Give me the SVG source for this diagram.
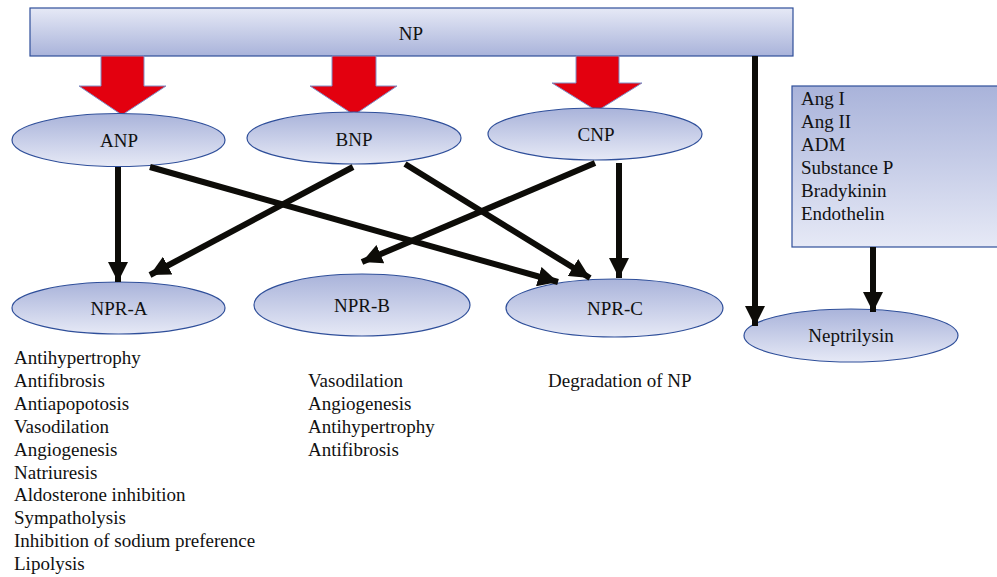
<svg xmlns="http://www.w3.org/2000/svg" width="997" height="577" viewBox="0 0 997 577" font-family="Liberation Serif, Times New Roman, serif" font-size="19">
<style>
text{fill:#111}
.c{text-anchor:middle}
.node{fill:url(#gEll);stroke:#2f4f9a;stroke-width:1.2}
.box{stroke:#2f4f9a;stroke-width:1.2}
.red{fill:#e3000f;stroke:#8090c8;stroke-width:1}
.con{stroke:#0d0c08;stroke-width:6;fill:none}
</style>
<defs>
<linearGradient id="gBar" x1="0" y1="0" x2="0" y2="1"><stop offset="0" stop-color="#e6e9f6"/><stop offset="1" stop-color="#a9b3da"/></linearGradient>
<linearGradient id="gEll" x1="0" y1="0" x2="0" y2="1"><stop offset="0" stop-color="#a9b3da"/><stop offset="1" stop-color="#e6e9f6"/></linearGradient>
<marker id="ah" viewBox="0 0 20 20" refX="20" refY="10" markerWidth="20" markerHeight="20" markerUnits="userSpaceOnUse" orient="auto"><path d="M0,0 L20,10 L0,20 Z" fill="#0d0c08"/></marker>
</defs>
<g id="np"><rect class="box" x="30" y="8" width="763" height="48" fill="url(#gBar)"/><text class="c" x="411" y="40" font-family="Liberation Serif">NP</text></g>
<g id="red-arrows">
<path class="red" d="M101,56 H144 V86 H166 L122,115 L79,86 H101 Z"/>
<path class="red" d="M332,56 H376 V86 H397 L354,115 L310,86 H332 Z"/>
<path class="red" d="M576,56 H619 V83 H642 L597,111 L552,83 H576 Z"/>
</g>
<g id="anp"><ellipse class="node" cx="118.5" cy="140" rx="106.5" ry="26.5"/><text class="c" x="119" y="147" font-family="Liberation Serif">ANP</text></g>
<g id="bnp"><ellipse class="node" cx="354" cy="138" rx="107" ry="26"/><text class="c" x="354" y="146" font-family="Liberation Serif">BNP</text></g>
<g id="cnp"><ellipse class="node" cx="595" cy="134" rx="107" ry="26"/><text class="c" x="596" y="141" font-family="Liberation Serif">CNP</text></g>
<g id="npra"><ellipse class="node" cx="118.5" cy="308" rx="106.5" ry="26"/><text class="c" x="119" y="315" font-family="Liberation Serif">NPR-A</text></g>
<g id="nprb"><ellipse class="node" cx="362" cy="305" rx="108" ry="31"/><text class="c" x="362" y="312" font-family="Liberation Serif">NPR-B</text></g>
<g id="nprc"><ellipse class="node" cx="614.5" cy="308" rx="108.5" ry="29"/><text class="c" x="615" y="315" font-family="Liberation Serif">NPR-C</text></g>
<g id="neprilysin"><ellipse class="node" cx="851" cy="335.5" rx="107" ry="26.5"/><text class="c" x="851" y="342" font-family="Liberation Serif">Neptrilysin</text></g>
<g id="inhibitors" font-family="Liberation Serif"><rect class="box" x="792" y="86" width="210" height="161" fill="url(#gEll)"/>
<text x="801" y="105">Ang I</text><text x="801" y="128">Ang II</text><text x="801" y="151">ADM</text><text x="801" y="174">Substance P</text><text x="801" y="197">Bradykinin</text><text x="801" y="220">Endothelin</text></g>
<g id="connectors">
<line class="con" x1="118" y1="167" x2="118" y2="282" marker-end="url(#ah)"/>
<line class="con" x1="150" y1="167" x2="558" y2="282" marker-end="url(#ah)"/>
<line class="con" x1="353" y1="167" x2="150" y2="275" marker-end="url(#ah)"/>
<line class="con" x1="405" y1="164" x2="590" y2="278" marker-end="url(#ah)"/>
<line class="con" x1="595" y1="163" x2="362" y2="262" marker-end="url(#ah)"/>
<line class="con" x1="619" y1="163" x2="619" y2="278" marker-end="url(#ah)"/>
<line class="con" x1="755" y1="56" x2="755" y2="326" marker-end="url(#ah)"/>
<line class="con" x1="873" y1="247" x2="873" y2="312" marker-end="url(#ah)"/>
</g>
<g id="npra-effects" font-family="Liberation Serif">
<text x="14" y="364">Antihypertrophy</text><text x="14" y="387">Antifibrosis</text><text x="14" y="410">Antiapopotosis</text><text x="14" y="433">Vasodilation</text><text x="14" y="456">Angiogenesis</text><text x="14" y="479">Natriuresis</text><text x="14" y="501">Aldosterone inhibition</text><text x="14" y="524">Sympatholysis</text><text x="14" y="547">Inhibition of sodium preference</text><text x="14" y="570">Lipolysis</text>
</g>
<g id="nprb-effects" font-family="Liberation Serif">
<text x="308" y="387">Vasodilation</text><text x="308" y="410">Angiogenesis</text><text x="308" y="433">Antihypertrophy</text><text x="308" y="456">Antifibrosis</text>
</g>
<g id="nprc-effects" font-family="Liberation Serif"><text x="548" y="387">Degradation of NP</text></g>
</svg>
